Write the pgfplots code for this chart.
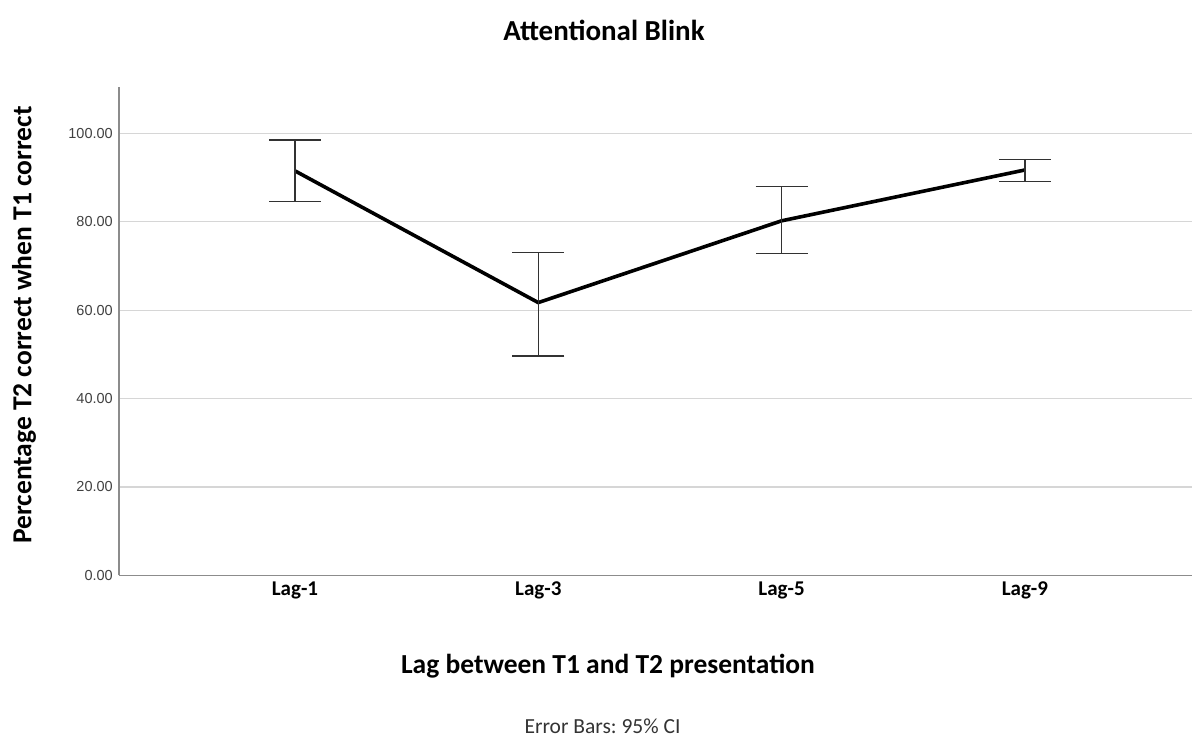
\documentclass[border=0pt]{standalone}
\usepackage{pgfplots}
\pgfplotsset{compat=1.18}
\usepackage{pgfplotstable}
\usepackage{fontspec}
\setmainfont{Carlito}
\newfontfamily\tickfont{Liberation Sans}
\frenchspacing

% Mean percentage T2 correct (given T1 correct) with 95% CI half-widths
\pgfplotstableread{
x  mean  ep    em
0  91.5  7.0   7.0
1  61.7  11.4  12.1
2  80.2  7.7   7.4
3  91.7  2.3   2.6
}\lagdata

\definecolor{gridgray}{RGB}{214,214,214}
\definecolor{axisgray}{RGB}{140,140,140}
\definecolor{bargray}{RGB}{50,50,50}

\begin{document}
\begin{tikzpicture}
\useasboundingbox (-119.3bp,-162.7bp) rectangle (1072.7bp,575.3bp);
\begin{axis}[
  at={(0,0)}, anchor=south west,
  scale only axis,
  width=1072.7bp, height=488.4bp,
  xmin=-0.722, xmax=3.687,
  ymin=0, ymax=110.5,
  axis x line=bottom, axis y line=left,
  axis line style={draw=axisgray, line width=1.6bp, -},
  xtick={0,1,2,3},
  xticklabels={Lag-1,Lag-3,Lag-5,Lag-9},
  ytick={0,20,40,60,80,100},
  major tick length=0pt,
  ymajorgrids,
  grid style={draw=gridgray, line width=1.2bp},
  yticklabel style={font=\tickfont\fontsize{14.5bp}{17bp}\selectfont, text=black!75, xshift=-3bp},
  xticklabel style={font=\fontsize{21bp}{24bp}\selectfont\bfseries, yshift=-3bp},
  /pgf/number format/assume math mode=true,
  /pgf/number format/.cd, fixed, fixed zerofill, precision=2, use period, 1000 sep={},
  /pgfplots/.cd,
  clip=false,
]
\addplot[black, line width=3.6bp, mark=none,
  error bars/.cd, y dir=both, y explicit,
  error bar style={draw=bargray, line width=1.3bp},
  error mark options={draw=bargray, line width=1.3bp, rotate=90, mark size=26bp}]
  table[x=x, y=mean, y error plus=ep, y error minus=em] {\lagdata};
\end{axis}
\node[font=\fontsize{29bp}{32bp}\selectfont\bfseries] at (484.7bp,545.3bp) {Attentional Blink};
\node[font=\fontsize{27.5bp}{32bp}\selectfont\bfseries] at (488.7bp,-90.7bp) {Lag between T1 and T2 presentation};
\node[font=\fontsize{21.5bp}{24bp}\selectfont, text=black!80, inner sep=0pt] at (483.2bp,-150.5bp) {Error Bars: 95\% CI};
\node[font=\fontsize{27.5bp}{32bp}\selectfont\bfseries, rotate=90] at (-95.3bp,250.3bp) {Percentage T2 correct when T1 correct};
\end{tikzpicture}
\end{document}
